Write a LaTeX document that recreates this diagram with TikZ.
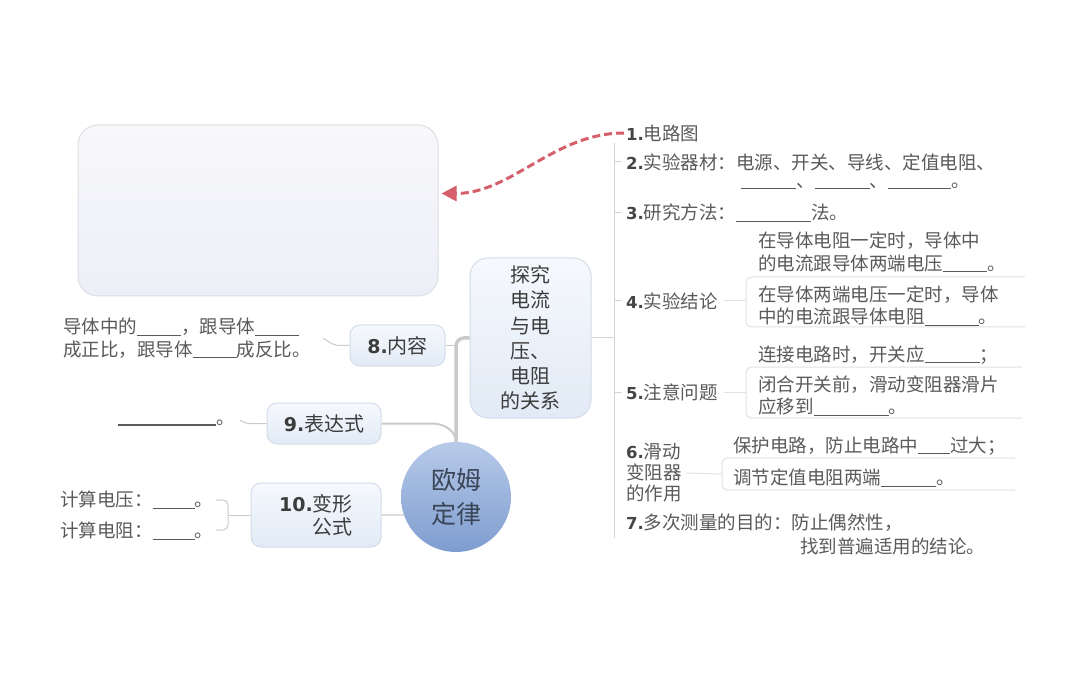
\documentclass[tikz,border=0pt]{standalone}
\usepackage{fontspec}
\setmainfont{Noto Sans CJK SC}
\newfontfamily\numf{DejaVu Sans}
\usetikzlibrary{arrows.meta}
\definecolor{txt}{HTML}{5A5A5A}
\definecolor{numc}{HTML}{454545}
\definecolor{boxtxt}{HTML}{3C3C3C}
\definecolor{busc}{HTML}{D4D4D4}
\definecolor{subc}{HTML}{E2E2E2}
\definecolor{trunkc}{HTML}{CACACA}
\definecolor{redc}{HTML}{D65F6C}
\definecolor{boxline}{HTML}{D3DCE8}
\definecolor{boxtop}{HTML}{F6F9FD}
\definecolor{boxbot}{HTML}{E1EAF6}
\definecolor{ohtop}{HTML}{B7CAE9}
\definecolor{ohbot}{HTML}{7E9DCF}
\definecolor{ohtxt}{HTML}{3A4557}
\definecolor{pictop}{HTML}{F8F8FA}
\definecolor{picbot}{HTML}{EDEFF8}
\definecolor{picline}{HTML}{DDDEE4}
\newcommand\nb[1]{{\numf\bfseries\fontsize{16.5}{20}\selectfont\color{numc}#1}}
\newcommand\nbb[1]{{\numf\bfseries\fontsize{19}{22}\selectfont #1}}
\newcommand\blk[1]{\rule[-2pt]{#1pt}{1pt}}
\tikzset{
  lbl/.style={inner sep=0pt, text=txt, anchor=west, align=left, font=\fontsize{18.5}{22.5}\selectfont},
  topicbox/.style={draw=boxline, line width=1pt, rounded corners=10pt, top color=boxtop, bottom color=boxbot, inner sep=0pt, text=boxtxt, font=\fontsize{20}{24}\selectfont},
  bus/.style={draw=busc, line width=1pt},
  subbr/.style={draw=subc, line width=1pt, rounded corners=6pt},
  thinc/.style={draw=trunkc, line width=1.3pt, rounded corners=5pt},
  trunk/.style={draw=trunkc, line width=3.5pt, rounded corners=8pt},
  midc/.style={draw=trunkc, line width=2pt},
}
\begin{document}
\begin{tikzpicture}[x=1pt,y=-1pt]
\useasboundingbox (0,0) rectangle (1080,679);
\fill[white] (0,0) rectangle (1080,679);

% picture placeholder box
\node[draw=picline, line width=1pt, rounded corners=20pt, minimum width=360pt, minimum height=171pt,
      top color=pictop, bottom color=picbot, inner sep=0pt] (pic) at (258,210.5) {};

% central topic
\node[circle, minimum size=110pt, inner sep=0pt, top color=ohtop, bottom color=ohbot,
      text=ohtxt, align=center, font=\fontsize{25}{34}\selectfont] (oh) at (456,497) {欧姆\\定律};

% main topic boxes
\node[topicbox, minimum width=121pt, minimum height=160pt, rounded corners=18pt, align=center, font=\fontsize{20}{25.3}\selectfont] (tan) at (530.5,338)
  {探究\\电流\\与电\\压、\\电阻\\的关系};
\node[topicbox, minimum width=95pt, minimum height=41pt] (c8) at (397.5,345.5) {\nbb{8.}内容};
\node[topicbox, minimum width=114pt, minimum height=41pt] (c9) at (324,423.5) {\nbb{9.}表达式};
\node[topicbox, minimum width=130pt, minimum height=64pt, align=right, font=\fontsize{20}{23}\selectfont] (c10) at (316,515) {\nbb{10.}变形\\公式};

% trunk connectors
\draw[trunk] (oh.north) |- (tan.west);
\draw[thinc] (c8.east) -- (c8.east -| oh.north);
\draw[midc] (c9.east) -- ++(50,0) .. controls +(14,0) and +(0,-10) .. (oh.north);
\draw[thinc] (c10.east) -- (oh.199);

% left texts
\node[lbl] (t8) at (63,338) {导体中的\blk{44}，跟导体\blk{44}\\成正比，跟导体\blk{44}成反比。};
\node[lbl] (t9) at (118,423) {\rule[-1pt]{98pt}{2pt}。};
\node[lbl] (t10a) at (60,500) {计算电压：\blk{42}。};
\node[lbl] (t10b) at (60,531) {计算电阻：\blk{42}。};
\coordinate (b8) at (323,338);
\coordinate (b9) at (240,420);
\coordinate (b10) at (228,515);
\draw[thinc, line width=1pt] (c8.west) -- ([xshift=-15pt]c8.west) -- (b8);
\draw[thinc, line width=1pt] (c9.west) -- ([xshift=-22pt]c9.west) -- (b9);
\draw[thinc, line width=1pt] (c10.west) -- (b10);
\draw[thinc, line width=1pt] (216,500) -- (228,500) -- (228,530) -- (216,530);

% right column items
\node[lbl] (i1) at (626,133) {\nb{1.}电路图};
\node[lbl] (i2) at (626,162) {\nb{2.}实验器材：电源、开关、导线、定值电阻、};
\node[lbl] (i2b) at (741,186) {\blk{55}、\blk{55}、\blk{63}。};
\node[lbl] (i3) at (626,213) {\nb{3.}研究方法：\blk{75}法。};
\node[lbl] (i4) at (626,301) {\nb{4.}实验结论};
\node[lbl] (s4a) at (758,252) {在导体电阻一定时，导体中\\的电流跟导体两端电压\blk{44}。};
\node[lbl] (s4b) at (758,305.5) {在导体两端电压一定时，导体\\中的电流跟导体电阻\blk{54}。};
\node[lbl] (i5) at (626,392) {\nb{5.}注意问题};
\node[lbl] (s5a) at (758,355) {连接电路时，开关应\blk{55}；};
\node[lbl] (s5b) at (758,395.5) {闭合开关前，滑动变阻器滑片\\应移到\blk{75}。};
\node[lbl, font=\fontsize{18.5}{21}\selectfont] (i6) at (626,473) {\nb{6.}滑动\\变阻器\\的作用};
\node[lbl] (s6a) at (733,446) {保护电路，防止电路中\blk{32}过大；};
\node[lbl] (s6b) at (733,478) {调节定值电阻两端\blk{55}。};
\node[lbl] (i7) at (626,523) {\nb{7.}多次测量的目的：防止偶然性，};
\node[lbl] (i7b) at (800,546) {找到普遍适用的结论。};

% right bus
\coordinate (bt) at (614,143);
\coordinate (bb) at (614,538);
\draw[bus] (bt) -- (bb);
\draw[bus] (tan.east) -- (tan.east -| bt);
\foreach \n in {i2,i3,i4,i5}{\draw[bus] (\n.west -| bt) -- ([xshift=-4pt]\n.west);}

% sub brackets
\draw[subbr] (i4.east) ++(6,0) -- (746,301);
\draw[subbr] (1025,277) -- (746,277) -- (746,327) -- (1025,327);
\draw[subbr] (i5.east) ++(6,0) -- (746,392);
\draw[subbr] (1022,367) -- (746,367) -- (746,418) -- (1022,418);
\draw[subbr] (i6.east) ++(4,0) -- (722,474);
\draw[subbr] (1015,458) -- (722,458) -- (722,490) -- (1015,490);

% dashed red arrow
\draw[redc, line width=3pt, dash pattern=on 8pt off 4pt, -{Triangle[length=15pt,width=15pt]}]
  ([xshift=-2pt]i1.west) .. controls +(-70,0) and +(70,0) .. ([yshift=17pt,xshift=3pt]pic.east);
\end{tikzpicture}
\end{document}
